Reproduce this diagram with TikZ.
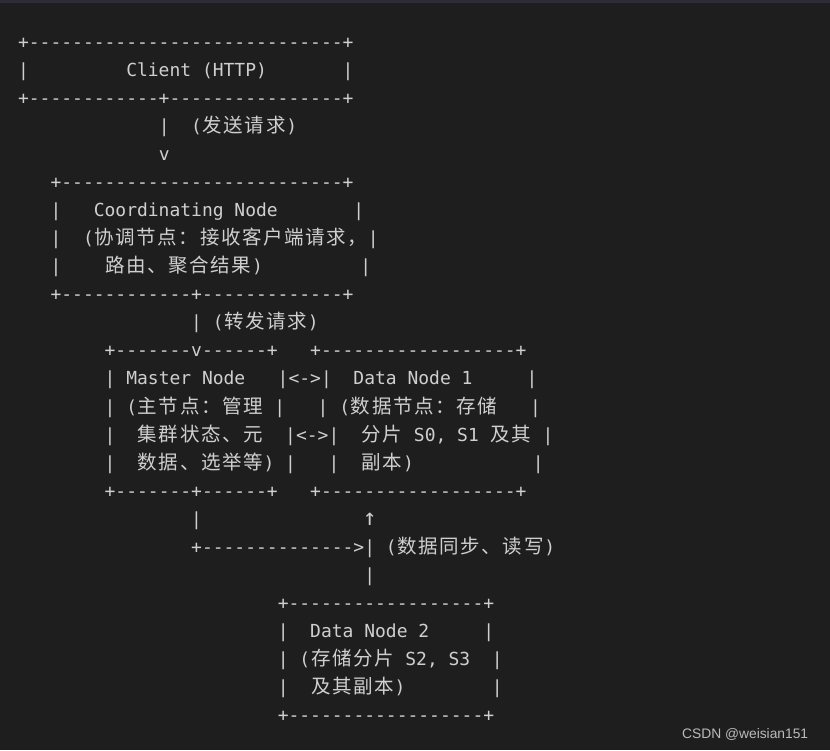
\documentclass[tikz,border=0pt]{standalone}
\usepackage{fontspec}
\setmonofont{DejaVu Sans Mono}
\newfontfamily\cjkfam{Noto Sans CJK SC}
\newfontfamily\markfam{Liberation Sans}
\definecolor{editorbg}{HTML}{1E1E1E}
\definecolor{tabbar}{HTML}{2D2D38}
\definecolor{codefg}{HTML}{CFCFCF}
\definecolor{markfg}{HTML}{BBBBBB}
\newcommand\cj[1]{\cjstep#1\relax}
\newcommand\cjstep[1]{\ifx\relax#1\else\makebox[21.08pt]{\cjkfam\fontsize{19.5}{20}\selectfont#1}\expandafter\cjstep\fi}
\ExplSyntaxOn
\cs_new:Npn \dsh #1 { \prg_replicate:nn {#1} {-} }
\cs_new:Npn \blanks #1 { \prg_replicate:nn {#1} { \nobreakspace } }
\ExplSyntaxOff
\begin{document}
\begin{tikzpicture}[x=1pt,y=-1pt,
  row/.style={anchor=base west,inner sep=0pt,text=codefg,font=\ttfamily\fontsize{17.97}{20}\selectfont}]
		\fill[editorbg] (0,0) rectangle (830,750);
		\fill[tabbar] (0,0) rectangle (830,3);
		
		\node[row] (r1) at (17.9,48) {+\dsh{29}+};
		\node[row] (r2) at (17.9,76.08) {|\blanks{9}Client (HTTP)\blanks{7}|};
		\node[row] (r3) at (17.9,104.16) {+\dsh{12}+\dsh{16}+};
		\node[row] (r4) at (158.56,132.24) {|\blanks{2}(\cj{发送请求})};
		\node[row] (r5) at (158.56,160.32) {v};
		
		\node[row] (r6) at (50.36,188.4) {+\dsh{26}+};
		\node[row] (r7) at (50.36,216.48) {|\blanks{3}Coordinating Node\blanks{7}|};
		\node[row] (r8) at (50.36,244.56) {|\blanks{2}(\cj{协调节点：接收客户端请求，}|};
		\node[row] (r9) at (50.36,272.64) {|\blanks{4}\cj{路由、聚合结果})\blanks{9}|};
		\node[row] (r10) at (50.36,300.72) {+\dsh{12}+\dsh{13}+};
		\node[row] (r11) at (191.02,328.8) {|~(\cj{转发请求})};
		
		\node[row] (r12) at (104.46,356.88) {+\dsh{7}v\dsh{6}+\blanks{3}+\dsh{18}+};
		\node[row] (r13) at (104.46,384.96) {|~Master Node\blanks{3}|<->|\blanks{2}Data Node 1\blanks{5}|};
		\node[row] (r14) at (104.46,413.04) {|~(\cj{主节点：管理}~|\blanks{3}|~(\cj{数据节点：存储}\blanks{3}|};
		\node[row] (r15) at (104.46,441.12) {|\blanks{2}\cj{集群状态、元}\blanks{2}|<->|\blanks{2}\cj{分片} S0, S1 \cj{及其}~|};
		\node[row] (r16) at (104.46,469.2) {|\blanks{2}\cj{数据、选举等})~|\blanks{3}|\blanks{2}\cj{副本})\blanks{11}|};
		\node[row] (r17) at (104.46,497.28) {+\dsh{7}+\dsh{6}+\blanks{3}+\dsh{18}+};
		
		\node[row] (r18) at (191.02,525.36) {|\blanks{15}\makebox[10.82pt]{\fontsize{23}{20}\selectfont↑}};
		\node[row] (r19) at (191.02,553.44) {+\dsh{14}>|~(\cj{数据同步、读写})};
		\node[row] (r20) at (364.14,581.52) {|};
		
		\node[row] (r21) at (277.58,609.6) {+\dsh{18}+};
		\node[row] (r22) at (277.58,637.68) {|\blanks{2}Data Node 2\blanks{5}|};
		\node[row] (r23) at (277.58,665.76) {|~(\cj{存储分片} S2, S3\blanks{2}|};
		\node[row] (r24) at (277.58,693.84) {|\blanks{2}\cj{及其副本})\blanks{8}|};
		\node[row] (r25) at (277.58,721.92) {+\dsh{18}+};
		
		\node[anchor=base west,inner sep=0pt,text=markfg,font=\markfam\fontsize{13.8}{16}\selectfont] (mark) at (682,738) {CSDN @weisian151};
		
\end{tikzpicture}
\end{document}
